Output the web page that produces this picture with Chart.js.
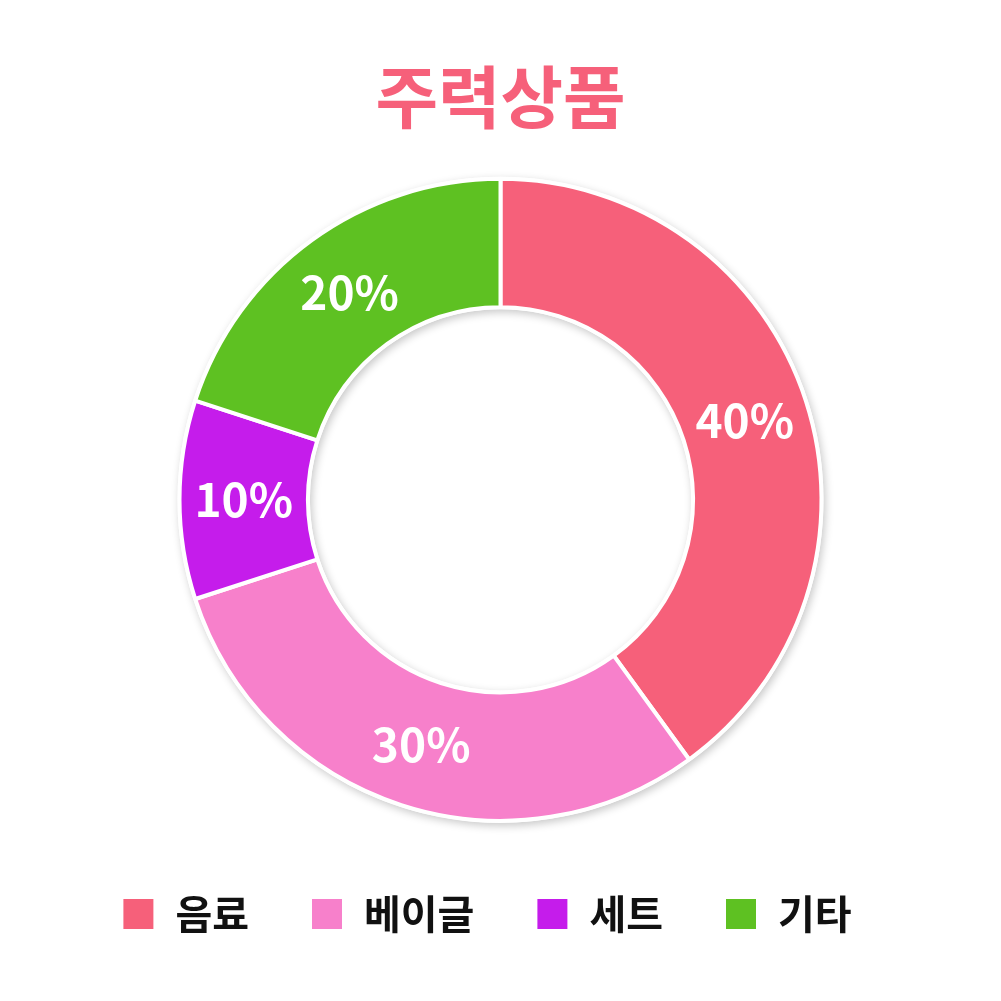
<!DOCTYPE html>
<html lang="ko">
<head>
<meta charset="utf-8">
<title>주력상품</title>
<script src="https://cdn.jsdelivr.net/npm/chart.js@4.4.1/dist/chart.umd.min.js"></script>
<style>
  html, body { margin: 0; padding: 0; background: #fff; }
  #wrap { width: 1001px; height: 1001px; }
</style>
</head>
<body>
<div id="wrap"><canvas id="myChart"></canvas></div>
<script>
const categories = ['음료', '베이글', '세트', '기타'];
const shares = [40, 30, 10, 20];
const sliceColors = ['#F6607A', '#F780CB', '#C51CEB', '#5EC122'];

const FONT = '"Noto Sans CJK KR", "Noto Sans", sans-serif';

// soft grey shadow behind the ring, drawn once so slices don't shade each other
const ringShadow = {
  id: 'ringShadow',
  beforeDatasetsDraw(chart) {
    const arc = chart.getDatasetMeta(0).data[0];
    if (!arc) return;
    const { x, y, outerRadius, innerRadius } = arc.getProps(['x', 'y', 'outerRadius', 'innerRadius'], true);
    const ctx = chart.ctx;
    ctx.save();
    ctx.shadowColor = 'rgba(0,0,0,0.22)';
    ctx.shadowBlur = 9;
    ctx.shadowOffsetX = 2;
    ctx.shadowOffsetY = 3;
    ctx.fillStyle = '#fff';
    ctx.beginPath();
    ctx.arc(x, y, outerRadius + 2, 0, Math.PI * 2);
    ctx.arc(x, y, innerRadius - 2, 0, Math.PI * 2, true);
    ctx.fill();
    ctx.restore();
  }
};

// percentage text in the middle of each slice
const sliceLabels = {
  id: 'sliceLabels',
  afterDatasetsDraw(chart) {
    const ctx = chart.ctx;
    const values = chart.data.datasets[0].data;
    ctx.save();
    ctx.fillStyle = '#fff';
    ctx.font = 'bold 46px ' + FONT;
    ctx.textAlign = 'center';
    ctx.textBaseline = 'middle';
    chart.getDatasetMeta(0).data.forEach((el, i) => {
      const p = el.tooltipPosition();
      ctx.fillText(values[i] + '%', p.x, p.y);
    });
    ctx.restore();
  }
};

// the legend row in the original sits a little left of centre
const legendNudge = {
  id: 'legendNudge',
  afterLayout(chart) {
    if (chart.legend) {
      chart.legend.left -= 14;
      chart.legend.right -= 14;
    }
  }
};

const ctx = document.getElementById('myChart');

new Chart(ctx, {
  type: 'doughnut',
  data: {
    labels: categories,
    datasets: [{
      data: shares,
      backgroundColor: sliceColors,
      borderColor: '#fff',
      borderWidth: 4,
      hoverOffset: 0
    }]
  },
  options: {
    responsive: true,
    maintainAspectRatio: false,
    animation: false,
    cutout: '60%',
    radius: 321,
    layout: { padding: { top: 0, bottom: 57, left: 0, right: 0 } },
    plugins: {
      title: {
        display: true,
        text: '주력상품',
        color: '#F6607A',
        font: { family: FONT, size: 68, weight: 'bold' },
        padding: { top: 56, bottom: 29 }
      },
      legend: {
        position: 'bottom',
        labels: {
          color: '#111',
          font: { family: FONT, size: 40, weight: 'bold' },
          boxWidth: 34,
          boxHeight: 34,
          padding: 61
        }
      },
      tooltip: { enabled: false }
    }
  },
  plugins: [ringShadow, sliceLabels, legendNudge]
});
</script>
</body>
</html>
